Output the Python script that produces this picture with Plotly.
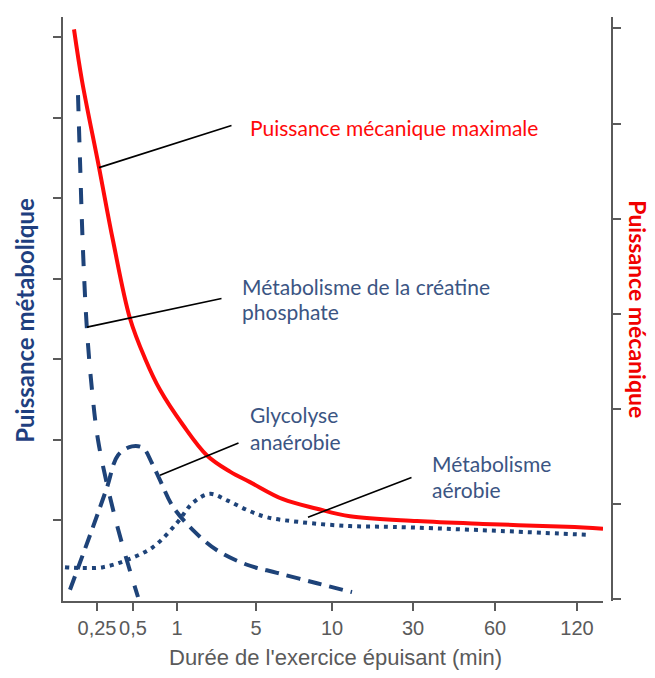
import plotly.graph_objects as go

# --- data (x in axis position units; the original time axis is not uniform) ---
tick_pos = [0.34, 0.70, 1.14, 1.93, 2.69, 3.50, 4.32, 5.14]
tick_text = ["0,25", "0,5", "1", "5", "10", "30", "60", "120"]

# Puissance mécanique maximale (right axis)
meca_x = [0.11, 0.19, 0.36, 0.50, 0.67, 0.82, 0.97, 1.20, 1.44, 1.67, 1.87, 2.20,
          2.54, 2.87, 3.54, 4.20, 5.04, 5.40]
meca_y = [5.99, 5.45, 4.54, 3.77, 2.95, 2.53, 2.20, 1.83, 1.51, 1.34, 1.23, 1.05,
          0.95, 0.87, 0.82, 0.79, 0.76, 0.74]

# Métabolisme de la créatine phosphate (left axis)
cp_x = [0.15, 0.17, 0.20, 0.24, 0.29, 0.35, 0.47, 0.60, 0.75]
cp_y = [6.28, 5.47, 4.35, 3.36, 2.62, 2.00, 1.29, 0.67, 0.05]

# Glycolyse anaérobie
gly_x = [0.07, 0.30, 0.44, 0.55, 0.69, 0.80, 0.89, 0.97, 1.10, 1.30, 1.54, 1.84, 2.14, 2.54, 2.89]
gly_y = [0.14, 0.92, 1.41, 1.81, 1.92, 1.90, 1.71, 1.50, 1.17, 0.88, 0.63, 0.45, 0.35, 0.22, 0.11]

# Métabolisme aérobie
aer_x = [0.02, 0.17, 0.40, 0.64, 0.90, 1.14, 1.30, 1.47, 1.64, 1.84, 2.04, 2.37, 2.87, 3.30, 4.17, 5.27]
aer_y = [0.42, 0.41, 0.42, 0.51, 0.67, 0.97, 1.22, 1.33, 1.25, 1.13, 1.04, 0.98, 0.93, 0.92, 0.88, 0.82]

RED = "#FF0A0A"
NAVY = "#1E4379"
LABEL_BLUE = "#3B5583"
AXIS_GREY = "#5A5A5A"

fig = go.Figure()

fig.add_trace(go.Scatter(
    x=cp_x, y=cp_y, mode="lines", line_shape="spline",
    line=dict(color=NAVY, width=4, dash="16px,15px")
))
fig.add_trace(go.Scatter(
    x=gly_x, y=gly_y, mode="lines", line_shape="spline",
    line=dict(color=NAVY, width=4, dash="14px,8px")
))
fig.add_trace(go.Scatter(
    x=aer_x, y=aer_y, mode="lines", line_shape="spline",
    line=dict(color=NAVY, width=4, dash="4px,5px")
))
fig.add_trace(go.Scatter(
    x=meca_x, y=meca_y, mode="lines", line_shape="spline", yaxis="y2",
    line=dict(color=RED, width=4)
))

# leader lines: (head x, head y, tail x, tail y) in left-axis units
leaders = [
    (0.36, 5.38, 1.70, 5.91),
    (0.24, 3.40, 1.60, 3.76),
    (0.97, 1.56, 1.77, 1.97),
    (2.45, 1.04, 3.50, 1.54),
]
annotations = []
for hx, hy, tx, ty in leaders:
    annotations.append(dict(
        x=hx, y=hy, ax=tx, ay=ty, xref="x", yref="y", axref="x", ayref="y",
        text="", showarrow=True, arrowhead=0, arrowwidth=1.6, arrowcolor="black"
    ))

labels = [
    ("Puissance mécanique maximale", 1.85, 5.88, RED),
    ("Métabolisme de la créatine", 1.77, 3.91, LABEL_BLUE),
    ("phosphate", 1.77, 3.59, LABEL_BLUE),
    ("Glycolyse", 1.85, 2.31, LABEL_BLUE),
    ("anaérobie", 1.85, 1.98, LABEL_BLUE),
    ("Métabolisme", 3.67, 1.71, LABEL_BLUE),
    ("aérobie", 3.67, 1.38, LABEL_BLUE),
]
for txt, lx, ly, col in labels:
    annotations.append(dict(
        x=lx, y=ly, xref="x", yref="y", text=txt, showarrow=False,
        xanchor="left", yanchor="middle",
        font=dict(family="Lato, sans-serif", size=21, color=col)
    ))

# axis titles
annotations.append(dict(
    x=-0.069, y=0.48, xref="paper", yref="paper", text="<b>Puissance métabolique</b>",
    textangle=-90, showarrow=False, xanchor="center", yanchor="middle",
    font=dict(family="Lato, sans-serif", size=24, color="#1F3F7F")
))
annotations.append(dict(
    x=1.047, y=0.50, xref="paper", yref="paper", text="<b>Puissance mécanique</b>",
    textangle=90, showarrow=False, xanchor="center", yanchor="middle",
    font=dict(family="Lato, sans-serif", size=23, color="#F00000")
))
annotations.append(dict(
    x=0.497, y=-0.096, xref="paper", yref="paper",
    text="Durée de l'exercice épuisant (min)", showarrow=False,
    xanchor="center", yanchor="middle",
    font=dict(family="Liberation Sans, Arial, sans-serif", size=22, color=AXIS_GREY)
))

# the page body adds an 8px offset, so the figure is a bit smaller than the window
fig.update_layout(
    width=647, height=670,
    margin=dict(l=55, r=43, t=9, b=77),
    paper_bgcolor="white", plot_bgcolor="white",
    showlegend=False,
    annotations=annotations,
    xaxis=dict(
        domain=[0, 0.9836], range=[0, 5.40],
        tickmode="array", tickvals=tick_pos, ticktext=tick_text,
        ticks="outside", ticklen=8, tickwidth=2, tickcolor=AXIS_GREY,
        showline=True, linecolor=AXIS_GREY, linewidth=2,
        showgrid=False, zeroline=False,
        tickfont=dict(family="Liberation Sans, Arial, sans-serif", size=20, color=AXIS_GREY)
    ),
    yaxis=dict(
        range=[0, 7.25], tickmode="array", tickvals=[1, 2, 3, 4, 5, 6, 7],
        showticklabels=False, ticks="outside", ticklen=8, tickwidth=2, tickcolor=AXIS_GREY,
        showline=True, linecolor=AXIS_GREY, linewidth=2,
        showgrid=False, zeroline=False
    ),
    yaxis2=dict(
        overlaying="y", side="right", anchor="free", position=1.0,
        range=[-0.02, 6.12], tickmode="array", tickvals=[0, 1, 2, 3, 4, 5, 6],
        showticklabels=False, ticks="outside", ticklen=8, tickwidth=2, tickcolor=AXIS_GREY,
        showline=True, linecolor=AXIS_GREY, linewidth=2,
        showgrid=False, zeroline=False
    ),
)

fig.write_html("out.html")
